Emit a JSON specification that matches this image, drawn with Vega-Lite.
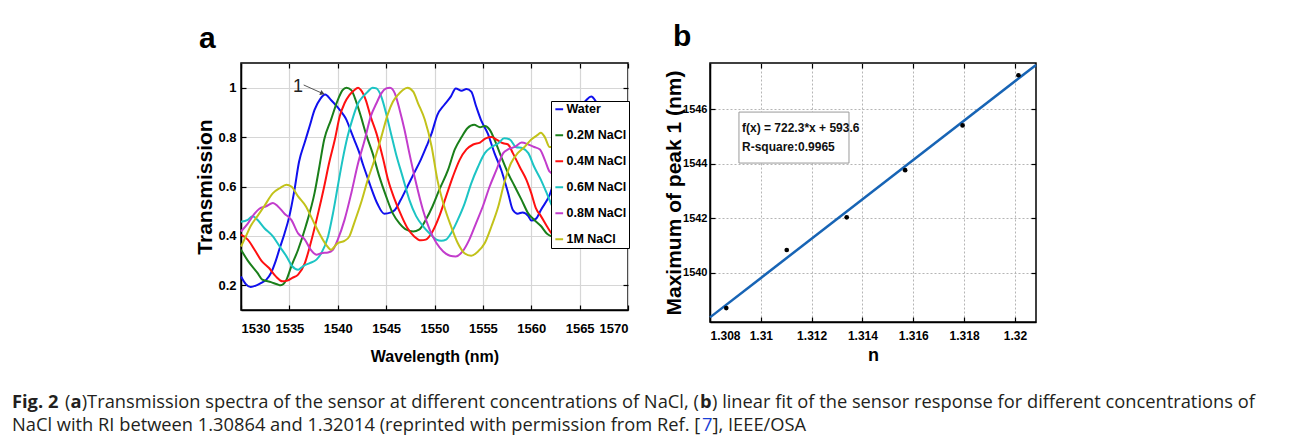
{
  "$schema": "https://vega.github.io/schema/vega-lite/v6.json",
  "background": "white",
  "padding": {"left": 11, "top": 21, "right": 0, "bottom": 0},
  "spacing": 26,
  "datasets": {
    "spectra": [
      {"s":"Water","w":1530.0,"t":0.236},{"s":"Water","w":1530.5,"t":0.205},{"s":"Water","w":1531.0,"t":0.193},{"s":"Water","w":1531.6,"t":0.2},{"s":"Water","w":1532.1,"t":0.21},{"s":"Water","w":1532.6,"t":0.222},{"s":"Water","w":1533.1,"t":0.25},{"s":"Water","w":1533.6,"t":0.3},{"s":"Water","w":1534.0,"t":0.35},{"s":"Water","w":1534.5,"t":0.41},{"s":"Water","w":1535.0,"t":0.48},{"s":"Water","w":1535.5,"t":0.58},{"s":"Water","w":1536.0,"t":0.7},{"s":"Water","w":1536.6,"t":0.78},{"s":"Water","w":1537.1,"t":0.845},{"s":"Water","w":1537.6,"t":0.91},{"s":"Water","w":1538.2,"t":0.955},{"s":"Water","w":1538.7,"t":0.972},{"s":"Water","w":1539.3,"t":0.95},{"s":"Water","w":1540.0,"t":0.92},{"s":"Water","w":1540.5,"t":0.895},{"s":"Water","w":1540.9,"t":0.87},{"s":"Water","w":1541.3,"t":0.83},{"s":"Water","w":1541.7,"t":0.79},{"s":"Water","w":1542.2,"t":0.74},{"s":"Water","w":1542.6,"t":0.69},{"s":"Water","w":1543.0,"t":0.645},{"s":"Water","w":1543.4,"t":0.6},{"s":"Water","w":1544.1,"t":0.53},{"s":"Water","w":1544.8,"t":0.49},{"s":"Water","w":1545.5,"t":0.495},{"s":"Water","w":1545.9,"t":0.505},{"s":"Water","w":1546.5,"t":0.545},{"s":"Water","w":1547.2,"t":0.6},{"s":"Water","w":1547.9,"t":0.655},{"s":"Water","w":1548.6,"t":0.71},{"s":"Water","w":1549.2,"t":0.765},{"s":"Water","w":1549.7,"t":0.815},{"s":"Water","w":1550.3,"t":0.89},{"s":"Water","w":1551.0,"t":0.93},{"s":"Water","w":1551.7,"t":0.965},{"s":"Water","w":1552.2,"t":0.997},{"s":"Water","w":1552.8,"t":0.988},{"s":"Water","w":1553.3,"t":0.995},{"s":"Water","w":1553.8,"t":0.984},{"s":"Water","w":1554.3,"t":0.925},{"s":"Water","w":1554.8,"t":0.87},{"s":"Water","w":1555.5,"t":0.815},{"s":"Water","w":1556.2,"t":0.735},{"s":"Water","w":1556.9,"t":0.667},{"s":"Water","w":1557.6,"t":0.575},{"s":"Water","w":1558.1,"t":0.505},{"s":"Water","w":1558.6,"t":0.49},{"s":"Water","w":1559.1,"t":0.495},{"s":"Water","w":1559.7,"t":0.48},{"s":"Water","w":1560.0,"t":0.462},{"s":"Water","w":1560.5,"t":0.47},{"s":"Water","w":1561.0,"t":0.505},{"s":"Water","w":1561.9,"t":0.566},{"s":"Water","w":1562.8,"t":0.68},{"s":"Water","w":1563.8,"t":0.81},{"s":"Water","w":1564.8,"t":0.9},{"s":"Water","w":1565.7,"t":0.95},{"s":"Water","w":1566.2,"t":0.964},{"s":"Water","w":1566.7,"t":0.943},{"s":"Water","w":1567.5,"t":0.88},{"s":"Water","w":1568.5,"t":0.79},{"s":"Water","w":1569.5,"t":0.7},
      {"s":"0.2M NaCl","w":1530.0,"t":0.344},{"s":"0.2M NaCl","w":1530.7,"t":0.3},{"s":"0.2M NaCl","w":1531.7,"t":0.25},{"s":"0.2M NaCl","w":1532.2,"t":0.223},{"s":"0.2M NaCl","w":1533.1,"t":0.213},{"s":"0.2M NaCl","w":1533.8,"t":0.203},{"s":"0.2M NaCl","w":1534.1,"t":0.2},{"s":"0.2M NaCl","w":1534.7,"t":0.223},{"s":"0.2M NaCl","w":1535.2,"t":0.277},{"s":"0.2M NaCl","w":1535.9,"t":0.344},{"s":"0.2M NaCl","w":1536.7,"t":0.44},{"s":"0.2M NaCl","w":1537.6,"t":0.573},{"s":"0.2M NaCl","w":1538.1,"t":0.68},{"s":"0.2M NaCl","w":1538.6,"t":0.79},{"s":"0.2M NaCl","w":1539.3,"t":0.87},{"s":"0.2M NaCl","w":1540.0,"t":0.95},{"s":"0.2M NaCl","w":1540.5,"t":0.99},{"s":"0.2M NaCl","w":1540.9,"t":1.0},{"s":"0.2M NaCl","w":1541.4,"t":0.99},{"s":"0.2M NaCl","w":1541.9,"t":0.944},{"s":"0.2M NaCl","w":1542.4,"t":0.883},{"s":"0.2M NaCl","w":1542.9,"t":0.815},{"s":"0.2M NaCl","w":1543.6,"t":0.735},{"s":"0.2M NaCl","w":1544.3,"t":0.64},{"s":"0.2M NaCl","w":1545.0,"t":0.56},{"s":"0.2M NaCl","w":1545.7,"t":0.49},{"s":"0.2M NaCl","w":1546.4,"t":0.45},{"s":"0.2M NaCl","w":1547.1,"t":0.425},{"s":"0.2M NaCl","w":1547.8,"t":0.418},{"s":"0.2M NaCl","w":1548.4,"t":0.425},{"s":"0.2M NaCl","w":1549.1,"t":0.465},{"s":"0.2M NaCl","w":1549.8,"t":0.52},{"s":"0.2M NaCl","w":1550.5,"t":0.587},{"s":"0.2M NaCl","w":1551.4,"t":0.667},{"s":"0.2M NaCl","w":1552.1,"t":0.75},{"s":"0.2M NaCl","w":1552.8,"t":0.8},{"s":"0.2M NaCl","w":1553.4,"t":0.836},{"s":"0.2M NaCl","w":1554.1,"t":0.85},{"s":"0.2M NaCl","w":1554.7,"t":0.84},{"s":"0.2M NaCl","w":1555.2,"t":0.845},{"s":"0.2M NaCl","w":1555.7,"t":0.83},{"s":"0.2M NaCl","w":1556.2,"t":0.79},{"s":"0.2M NaCl","w":1556.9,"t":0.72},{"s":"0.2M NaCl","w":1557.6,"t":0.654},{"s":"0.2M NaCl","w":1558.3,"t":0.6},{"s":"0.2M NaCl","w":1559.0,"t":0.546},{"s":"0.2M NaCl","w":1559.7,"t":0.49},{"s":"0.2M NaCl","w":1560.3,"t":0.465},{"s":"0.2M NaCl","w":1561.0,"t":0.44},{"s":"0.2M NaCl","w":1561.6,"t":0.41},{"s":"0.2M NaCl","w":1562.1,"t":0.398},{"s":"0.2M NaCl","w":1563.0,"t":0.39},
      {"s":"0.4M NaCl","w":1530.0,"t":0.405},{"s":"0.4M NaCl","w":1530.7,"t":0.385},{"s":"0.4M NaCl","w":1531.4,"t":0.344},{"s":"0.4M NaCl","w":1532.1,"t":0.3},{"s":"0.4M NaCl","w":1532.9,"t":0.27},{"s":"0.4M NaCl","w":1533.6,"t":0.236},{"s":"0.4M NaCl","w":1534.3,"t":0.216},{"s":"0.4M NaCl","w":1534.8,"t":0.219},{"s":"0.4M NaCl","w":1535.3,"t":0.23},{"s":"0.4M NaCl","w":1535.9,"t":0.243},{"s":"0.4M NaCl","w":1536.6,"t":0.29},{"s":"0.4M NaCl","w":1537.2,"t":0.37},{"s":"0.4M NaCl","w":1537.9,"t":0.48},{"s":"0.4M NaCl","w":1538.6,"t":0.6},{"s":"0.4M NaCl","w":1539.1,"t":0.694},{"s":"0.4M NaCl","w":1539.7,"t":0.79},{"s":"0.4M NaCl","w":1540.2,"t":0.883},{"s":"0.4M NaCl","w":1540.7,"t":0.937},{"s":"0.4M NaCl","w":1541.2,"t":0.97},{"s":"0.4M NaCl","w":1541.7,"t":0.99},{"s":"0.4M NaCl","w":1542.1,"t":1.0},{"s":"0.4M NaCl","w":1542.4,"t":0.99},{"s":"0.4M NaCl","w":1542.9,"t":0.95},{"s":"0.4M NaCl","w":1543.4,"t":0.883},{"s":"0.4M NaCl","w":1544.0,"t":0.815},{"s":"0.4M NaCl","w":1544.7,"t":0.71},{"s":"0.4M NaCl","w":1545.2,"t":0.627},{"s":"0.4M NaCl","w":1545.9,"t":0.546},{"s":"0.4M NaCl","w":1546.6,"t":0.48},{"s":"0.4M NaCl","w":1547.2,"t":0.432},{"s":"0.4M NaCl","w":1547.9,"t":0.398},{"s":"0.4M NaCl","w":1548.6,"t":0.382},{"s":"0.4M NaCl","w":1549.1,"t":0.385},{"s":"0.4M NaCl","w":1549.8,"t":0.418},{"s":"0.4M NaCl","w":1550.5,"t":0.48},{"s":"0.4M NaCl","w":1551.2,"t":0.56},{"s":"0.4M NaCl","w":1551.9,"t":0.64},{"s":"0.4M NaCl","w":1552.6,"t":0.708},{"s":"0.4M NaCl","w":1553.3,"t":0.75},{"s":"0.4M NaCl","w":1554.0,"t":0.77},{"s":"0.4M NaCl","w":1554.7,"t":0.778},{"s":"0.4M NaCl","w":1555.3,"t":0.795},{"s":"0.4M NaCl","w":1555.9,"t":0.8},{"s":"0.4M NaCl","w":1556.4,"t":0.79},{"s":"0.4M NaCl","w":1557.1,"t":0.775},{"s":"0.4M NaCl","w":1557.6,"t":0.77},{"s":"0.4M NaCl","w":1558.1,"t":0.735},{"s":"0.4M NaCl","w":1558.8,"t":0.68},{"s":"0.4M NaCl","w":1559.5,"t":0.627},{"s":"0.4M NaCl","w":1560.0,"t":0.573},{"s":"0.4M NaCl","w":1560.5,"t":0.51},{"s":"0.4M NaCl","w":1561.0,"t":0.48},{"s":"0.4M NaCl","w":1561.6,"t":0.44},{"s":"0.4M NaCl","w":1562.1,"t":0.41},{"s":"0.4M NaCl","w":1563.0,"t":0.39},
      {"s":"0.6M NaCl","w":1530.0,"t":0.457},{"s":"0.6M NaCl","w":1530.7,"t":0.465},{"s":"0.6M NaCl","w":1531.2,"t":0.48},{"s":"0.6M NaCl","w":1531.7,"t":0.465},{"s":"0.6M NaCl","w":1532.4,"t":0.432},{"s":"0.6M NaCl","w":1533.3,"t":0.398},{"s":"0.6M NaCl","w":1534.0,"t":0.357},{"s":"0.6M NaCl","w":1534.7,"t":0.317},{"s":"0.6M NaCl","w":1535.3,"t":0.277},{"s":"0.6M NaCl","w":1535.9,"t":0.263},{"s":"0.6M NaCl","w":1536.4,"t":0.277},{"s":"0.6M NaCl","w":1537.1,"t":0.29},{"s":"0.6M NaCl","w":1537.8,"t":0.304},{"s":"0.6M NaCl","w":1538.3,"t":0.33},{"s":"0.6M NaCl","w":1539.0,"t":0.398},{"s":"0.6M NaCl","w":1539.5,"t":0.49},{"s":"0.6M NaCl","w":1540.0,"t":0.6},{"s":"0.6M NaCl","w":1540.5,"t":0.708},{"s":"0.6M NaCl","w":1541.0,"t":0.8},{"s":"0.6M NaCl","w":1541.6,"t":0.883},{"s":"0.6M NaCl","w":1542.1,"t":0.937},{"s":"0.6M NaCl","w":1542.6,"t":0.964},{"s":"0.6M NaCl","w":1543.1,"t":0.984},{"s":"0.6M NaCl","w":1543.6,"t":1.0},{"s":"0.6M NaCl","w":1544.0,"t":0.997},{"s":"0.6M NaCl","w":1544.5,"t":0.964},{"s":"0.6M NaCl","w":1545.0,"t":0.896},{"s":"0.6M NaCl","w":1545.5,"t":0.815},{"s":"0.6M NaCl","w":1546.0,"t":0.735},{"s":"0.6M NaCl","w":1546.7,"t":0.64},{"s":"0.6M NaCl","w":1547.4,"t":0.546},{"s":"0.6M NaCl","w":1548.1,"t":0.48},{"s":"0.6M NaCl","w":1548.8,"t":0.44},{"s":"0.6M NaCl","w":1549.5,"t":0.41},{"s":"0.6M NaCl","w":1550.2,"t":0.385},{"s":"0.6M NaCl","w":1550.7,"t":0.38},{"s":"0.6M NaCl","w":1551.2,"t":0.385},{"s":"0.6M NaCl","w":1551.7,"t":0.41},{"s":"0.6M NaCl","w":1552.4,"t":0.465},{"s":"0.6M NaCl","w":1553.1,"t":0.53},{"s":"0.6M NaCl","w":1553.8,"t":0.613},{"s":"0.6M NaCl","w":1554.5,"t":0.68},{"s":"0.6M NaCl","w":1555.2,"t":0.735},{"s":"0.6M NaCl","w":1555.9,"t":0.76},{"s":"0.6M NaCl","w":1556.6,"t":0.775},{"s":"0.6M NaCl","w":1557.2,"t":0.795},{"s":"0.6M NaCl","w":1557.8,"t":0.79},{"s":"0.6M NaCl","w":1558.4,"t":0.76},{"s":"0.6M NaCl","w":1559.1,"t":0.755},{"s":"0.6M NaCl","w":1559.7,"t":0.735},{"s":"0.6M NaCl","w":1560.3,"t":0.68},{"s":"0.6M NaCl","w":1561.0,"t":0.627},{"s":"0.6M NaCl","w":1561.6,"t":0.573},{"s":"0.6M NaCl","w":1562.1,"t":0.526},{"s":"0.6M NaCl","w":1563.0,"t":0.46},
      {"s":"0.8M NaCl","w":1530.0,"t":0.418},{"s":"0.8M NaCl","w":1530.7,"t":0.45},{"s":"0.8M NaCl","w":1531.4,"t":0.49},{"s":"0.8M NaCl","w":1531.9,"t":0.51},{"s":"0.8M NaCl","w":1532.6,"t":0.52},{"s":"0.8M NaCl","w":1533.3,"t":0.533},{"s":"0.8M NaCl","w":1533.8,"t":0.52},{"s":"0.8M NaCl","w":1534.5,"t":0.49},{"s":"0.8M NaCl","w":1535.2,"t":0.465},{"s":"0.8M NaCl","w":1535.9,"t":0.41},{"s":"0.8M NaCl","w":1536.6,"t":0.385},{"s":"0.8M NaCl","w":1537.2,"t":0.344},{"s":"0.8M NaCl","w":1537.8,"t":0.324},{"s":"0.8M NaCl","w":1538.3,"t":0.33},{"s":"0.8M NaCl","w":1539.0,"t":0.333},{"s":"0.8M NaCl","w":1539.5,"t":0.344},{"s":"0.8M NaCl","w":1540.0,"t":0.385},{"s":"0.8M NaCl","w":1540.7,"t":0.465},{"s":"0.8M NaCl","w":1541.4,"t":0.573},{"s":"0.8M NaCl","w":1542.1,"t":0.694},{"s":"0.8M NaCl","w":1542.8,"t":0.79},{"s":"0.8M NaCl","w":1543.4,"t":0.883},{"s":"0.8M NaCl","w":1544.0,"t":0.937},{"s":"0.8M NaCl","w":1544.5,"t":0.977},{"s":"0.8M NaCl","w":1545.0,"t":0.997},{"s":"0.8M NaCl","w":1545.4,"t":1.0},{"s":"0.8M NaCl","w":1545.9,"t":0.977},{"s":"0.8M NaCl","w":1546.4,"t":0.91},{"s":"0.8M NaCl","w":1546.9,"t":0.83},{"s":"0.8M NaCl","w":1547.4,"t":0.735},{"s":"0.8M NaCl","w":1548.1,"t":0.613},{"s":"0.8M NaCl","w":1548.8,"t":0.506},{"s":"0.8M NaCl","w":1549.5,"t":0.425},{"s":"0.8M NaCl","w":1550.2,"t":0.371},{"s":"0.8M NaCl","w":1550.9,"t":0.337},{"s":"0.8M NaCl","w":1551.6,"t":0.32},{"s":"0.8M NaCl","w":1552.2,"t":0.317},{"s":"0.8M NaCl","w":1552.9,"t":0.337},{"s":"0.8M NaCl","w":1553.6,"t":0.385},{"s":"0.8M NaCl","w":1554.3,"t":0.452},{"s":"0.8M NaCl","w":1555.0,"t":0.52},{"s":"0.8M NaCl","w":1555.7,"t":0.6},{"s":"0.8M NaCl","w":1556.4,"t":0.667},{"s":"0.8M NaCl","w":1557.1,"t":0.735},{"s":"0.8M NaCl","w":1557.6,"t":0.75},{"s":"0.8M NaCl","w":1558.3,"t":0.76},{"s":"0.8M NaCl","w":1559.0,"t":0.778},{"s":"0.8M NaCl","w":1559.7,"t":0.77},{"s":"0.8M NaCl","w":1560.3,"t":0.76},{"s":"0.8M NaCl","w":1560.9,"t":0.75},{"s":"0.8M NaCl","w":1561.4,"t":0.708},{"s":"0.8M NaCl","w":1561.9,"t":0.66},{"s":"0.8M NaCl","w":1562.1,"t":0.654},{"s":"0.8M NaCl","w":1563.0,"t":0.6},
      {"s":"1M NaCl","w":1530.0,"t":0.357},{"s":"1M NaCl","w":1530.5,"t":0.398},{"s":"1M NaCl","w":1531.0,"t":0.44},{"s":"1M NaCl","w":1531.7,"t":0.48},{"s":"1M NaCl","w":1532.4,"t":0.52},{"s":"1M NaCl","w":1533.3,"t":0.573},{"s":"1M NaCl","w":1534.0,"t":0.593},{"s":"1M NaCl","w":1534.7,"t":0.607},{"s":"1M NaCl","w":1535.2,"t":0.6},{"s":"1M NaCl","w":1535.9,"t":0.56},{"s":"1M NaCl","w":1536.7,"t":0.52},{"s":"1M NaCl","w":1537.4,"t":0.465},{"s":"1M NaCl","w":1538.1,"t":0.41},{"s":"1M NaCl","w":1538.8,"t":0.364},{"s":"1M NaCl","w":1539.3,"t":0.344},{"s":"1M NaCl","w":1540.0,"t":0.371},{"s":"1M NaCl","w":1540.7,"t":0.38},{"s":"1M NaCl","w":1541.2,"t":0.398},{"s":"1M NaCl","w":1541.7,"t":0.452},{"s":"1M NaCl","w":1542.4,"t":0.533},{"s":"1M NaCl","w":1543.1,"t":0.627},{"s":"1M NaCl","w":1543.8,"t":0.708},{"s":"1M NaCl","w":1544.5,"t":0.8},{"s":"1M NaCl","w":1545.2,"t":0.896},{"s":"1M NaCl","w":1545.7,"t":0.943},{"s":"1M NaCl","w":1546.2,"t":0.97},{"s":"1M NaCl","w":1546.7,"t":0.99},{"s":"1M NaCl","w":1547.2,"t":1.0},{"s":"1M NaCl","w":1547.8,"t":0.984},{"s":"1M NaCl","w":1548.3,"t":0.937},{"s":"1M NaCl","w":1549.0,"t":0.87},{"s":"1M NaCl","w":1549.7,"t":0.762},{"s":"1M NaCl","w":1550.3,"t":0.627},{"s":"1M NaCl","w":1551.0,"t":0.52},{"s":"1M NaCl","w":1551.7,"t":0.44},{"s":"1M NaCl","w":1552.4,"t":0.371},{"s":"1M NaCl","w":1553.1,"t":0.33},{"s":"1M NaCl","w":1553.8,"t":0.32},{"s":"1M NaCl","w":1554.5,"t":0.337},{"s":"1M NaCl","w":1555.2,"t":0.371},{"s":"1M NaCl","w":1555.9,"t":0.44},{"s":"1M NaCl","w":1556.6,"t":0.52},{"s":"1M NaCl","w":1557.2,"t":0.613},{"s":"1M NaCl","w":1557.9,"t":0.694},{"s":"1M NaCl","w":1558.6,"t":0.735},{"s":"1M NaCl","w":1559.3,"t":0.76},{"s":"1M NaCl","w":1560.0,"t":0.79},{"s":"1M NaCl","w":1560.7,"t":0.81},{"s":"1M NaCl","w":1561.0,"t":0.818},{"s":"1M NaCl","w":1561.4,"t":0.8},{"s":"1M NaCl","w":1561.9,"t":0.76},{"s":"1M NaCl","w":1562.1,"t":0.76},{"s":"1M NaCl","w":1563.0,"t":0.75}
    ],
    "arrow": [{"x":1536.48,"y":1.011,"x2":1538.3,"y2":0.979}],
    "arrowhead": [{"x":1538.42,"y":0.977}],
    "peaklabel": [{"x":1535.9,"y":1.003,"label":"1"}],
    "pts": [
      {"n":1.30864,"p":1538.71},{"n":1.31102,"p":1540.84},{"n":1.31338,"p":1542.04},{"n":1.31568,"p":1543.77},{"n":1.31794,"p":1545.41},{"n":1.32014,"p":1547.25}
    ],
    "fit": [{"n":1.308,"p":1538.37},{"n":1.32083,"p":1547.63}],
    "box": [{"n1":1.30914,"n2":1.31347,"p1":1544.03,"p2":1545.9}],
    "boxtext": [{"n":1.30926,"p":1545.3,"label":"f(x) = 722.3*x + 593.6"},{"n":1.30926,"p":1544.62,"label":"R-square:0.9965"}],
    "caption": [
      {"line":1,"x":0,"t":"Fig. 2","b":true,"c":"#231f20"},
      {"line":1,"x":53,"t":"(","b":false,"c":"#231f20"},
      {"line":1,"x":58.4,"t":"a","b":true,"c":"#231f20"},
      {"line":1,"x":69.7,"t":")Transmission spectra of the sensor at different concentrations of NaCl, (","b":false,"c":"#231f20"},
      {"line":1,"x":688,"t":"b","b":true,"c":"#231f20"},
      {"line":1,"x":700,"t":") linear fit of the sensor response for different concentrations of","b":false,"c":"#231f20"},
      {"line":2,"x":0,"t":"NaCl with RI between 1.30864 and 1.32014 (reprinted with permission from Ref. [","b":false,"c":"#231f20"},
      {"line":2,"x":690,"t":"7","b":false,"c":"#1a3fd6"},
      {"line":2,"x":700.5,"t":"], IEEE/OSA","b":false,"c":"#231f20"}
    ]
  },
  "vconcat": [
    {
      "bounds": "flush",
      "spacing": 82,
      "hconcat": [
        {
          "width": 147, "height": 247, "view": {"stroke": "transparent"},
          "data": {"values": []},
          "mark": "point"
        },
        {
          "width": 387, "height": 247,
          "title": {"text": "a", "anchor": "start", "frame": "group", "dx": -42, "offset": -16, "baseline": "alphabetic", "font": "Liberation Sans", "fontSize": 30, "fontWeight": "bold", "color": "black"},
          "layer": [
            {
              "data": {"name": "spectra"},
              "mark": {"type": "line", "strokeWidth": 2, "interpolate": "monotone"},
              "encoding": {
                "x": {"field": "w", "type": "quantitative", "scale": {"domain": [1530, 1570], "nice": false, "zero": false},
                      "axis": {"orient": "bottom", "values": [1530,1535,1540,1545,1550,1555,1560,1565,1570], "format": "d", "title": "Wavelength (nm)", "grid": true, "gridColor": "#d6d6d6", "gridWidth": 1.2, "labelFontSize": 13, "labelPadding": 17, "titleFontSize": 16, "titlePadding": 13}},
                "y": {"field": "t", "type": "quantitative", "scale": {"domain": [0.1, 1.1], "nice": false, "zero": false},
                      "axis": {"orient": "left", "values": [0.2,0.4,0.6,0.8,1], "format": ".1~f", "title": "Transmission", "grid": true, "gridColor": "#d6d6d6", "gridWidth": 1.2, "labelFontSize": 13, "titleFontSize": 21, "titlePadding": 2}},
                "color": {"field": "s", "type": "nominal",
                          "scale": {"domain": ["Water","0.2M NaCl","0.4M NaCl","0.6M NaCl","0.8M NaCl","1M NaCl"], "range": ["#1010ee","#1a7f1a","#ff1010","#1cc4c4","#c23ccc","#c2c21a"]},
                          "legend": {"orient": "none", "legendX": 539, "legendY": 38, "title": null, "fillColor": "white", "strokeColor": "black", "padding": 2, "symbolType": "stroke", "symbolSize": 60, "symbolStrokeWidth": 2, "labelFont": "Liberation Sans", "labelFontWeight": "bold", "labelFontSize": 12.5, "labelColor": "black", "rowPadding": 13, "labelOffset": 1}}
              }
            },
            {
              "data": {"name": "arrow"},
              "mark": {"type": "rule", "color": "#555555", "strokeWidth": 1},
              "encoding": {
                "x": {"field": "x", "type": "quantitative", "axis": {"orient": "top", "values": [1530,1535,1540,1545,1550,1555,1560,1565,1570], "labels": false, "title": null, "grid": false, "domain": false, "minExtent": 0, "maxExtent": 0}},
                "y": {"field": "y", "type": "quantitative", "axis": {"orient": "right", "values": [0.2,0.4,0.6,0.8,1], "labels": false, "title": null, "grid": false, "domain": false, "minExtent": 0, "maxExtent": 0}},
                "x2": {"field": "x2"},
                "y2": {"field": "y2"}
              }
            },
            {
              "data": {"name": "arrowhead"},
              "mark": {"type": "point", "shape": "triangle-right", "filled": true, "color": "#444444", "size": 28, "angle": 22, "opacity": 1},
              "encoding": {
                "x": {"field": "x", "type": "quantitative", "axis": null},
                "y": {"field": "y", "type": "quantitative", "axis": null}
              }
            },
            {
              "data": {"name": "peaklabel"},
              "mark": {"type": "text", "font": "Liberation Sans", "fontSize": 18, "color": "#222222", "baseline": "middle", "align": "center"},
              "encoding": {
                "x": {"field": "x", "type": "quantitative", "axis": null},
                "y": {"field": "y", "type": "quantitative", "axis": null},
                "text": {"field": "label"}
              }
            }
          ],
          "resolve": {"axis": {"x": "independent", "y": "independent"}}
        },
        {
          "width": 326, "height": 259,
          "title": {"text": "b", "anchor": "start", "frame": "group", "dx": -37, "offset": -16, "baseline": "alphabetic", "font": "Liberation Sans", "fontSize": 30, "fontWeight": "bold", "color": "black"},
          "layer": [
            {
              "data": {"name": "box"},
              "mark": {"type": "rect", "fill": "white", "stroke": "#9a9a9a", "strokeWidth": 1},
              "encoding": {
                "x": {"field": "n1", "type": "quantitative", "axis": null},
                "x2": {"field": "n2"},
                "y": {"field": "p1", "type": "quantitative", "axis": null},
                "y2": {"field": "p2"}
              }
            },
            {
              "data": {"name": "boxtext"},
              "mark": {"type": "text", "align": "left", "baseline": "middle", "font": "Liberation Sans", "fontWeight": "bold", "fontSize": 12, "color": "#111111"},
              "encoding": {
                "x": {"field": "n", "type": "quantitative", "axis": null},
                "y": {"field": "p", "type": "quantitative", "axis": null},
                "text": {"field": "label"}
              }
            },
            {
              "data": {"name": "fit"},
              "mark": {"type": "line", "color": "#1764b5", "strokeWidth": 2.5},
              "encoding": {
                "x": {"field": "n", "type": "quantitative", "scale": {"domain": [1.308, 1.32083], "nice": false, "zero": false},
                      "axis": {"orient": "bottom", "values": [1.308,1.31,1.312,1.314,1.316,1.318,1.32], "format": ".3~f", "title": "n", "grid": true, "gridColor": "#b5b5b5", "gridDash": [2,2], "gridWidth": 1, "labelFontSize": 12, "labelPadding": 13, "titleFontSize": 18, "titlePadding": 5}},
                "y": {"field": "p", "type": "quantitative", "scale": {"domain": [1538.2, 1547.7], "nice": false, "zero": false},
                      "axis": {"orient": "left", "values": [1540,1542,1544,1546], "format": "d", "title": "Maximum of peak 1 (nm)", "grid": true, "gridColor": "#b5b5b5", "gridDash": [2,2], "gridWidth": 1, "labelFontSize": 11, "labelPadding": 8, "titleFontSize": 21, "titlePadding": -2}}
              }
            },
            {
              "data": {"name": "pts"},
              "mark": {"type": "circle", "size": 22, "color": "black", "opacity": 1},
              "encoding": {
                "x": {"field": "n", "type": "quantitative", "axis": {"orient": "top", "values": [1.308,1.31,1.312,1.314,1.316,1.318,1.32], "labels": false, "title": null, "grid": false, "domain": false, "minExtent": 0, "maxExtent": 0}},
                "y": {"field": "p", "type": "quantitative", "axis": {"orient": "right", "values": [1540,1542,1544,1546], "labels": false, "title": null, "grid": false, "domain": false, "minExtent": 0, "maxExtent": 0}}
              }
            }
          ],
          "resolve": {"axis": {"x": "independent", "y": "independent"}}
        }
      ]
    },
    {
      "width": 1270, "height": 46, "view": {"stroke": null},
      "data": {"name": "caption"},
      "encoding": {
        "x": {"field": "x", "type": "quantitative", "scale": {"domain": [0, 1270], "nice": false, "zero": false}, "axis": null},
        "y": {"field": "line", "type": "ordinal", "scale": {"type": "point", "padding": 0.5}, "axis": null},
        "text": {"field": "t"},
        "color": {"field": "c", "type": "nominal", "scale": null}
      },
      "layer": [
        {"transform": [{"filter": "datum.b"}], "mark": {"type": "text", "align": "left", "baseline": "middle", "font": "Open Sans", "fontSize": 18.3, "fontWeight": "bold"}},
        {"transform": [{"filter": "!datum.b"}], "mark": {"type": "text", "align": "left", "baseline": "middle", "font": "Open Sans", "fontSize": 18.3}}
      ]
    }
  ],
  "config": {
    "view": {"stroke": "black", "strokeWidth": 1.5},
    "font": "Liberation Sans",
    "axis": {
      "domainColor": "black", "domainWidth": 1.5, "tickColor": "black", "tickWidth": 1.2, "tickSize": -5,
      "labelFont": "Liberation Sans", "labelFontWeight": "bold", "labelColor": "black", "labelPadding": 10,
      "titleFont": "Liberation Sans", "titleFontWeight": "bold", "titleColor": "black"
    }
  }
}
